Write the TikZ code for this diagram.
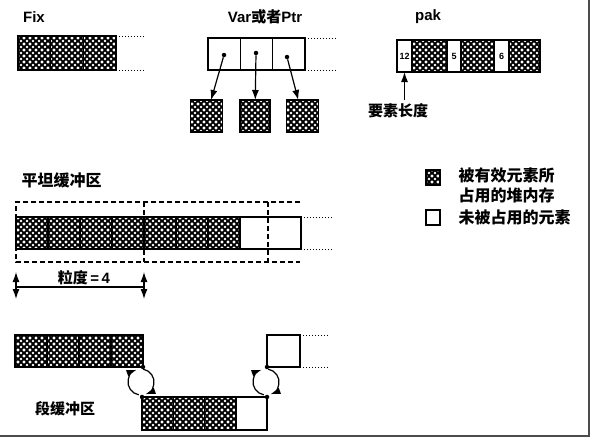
\documentclass[tikz,border=0pt]{standalone}
\usepackage{fontspec}
\setsansfont{Liberation Sans}
\newfontfamily\cjk{Noto Sans CJK SC}
\usetikzlibrary{patterns,arrows.meta}

\pgfdeclarepatternformonly{celldots}{\pgfqpoint{-2pt}{-2pt}}{\pgfqpoint{8pt}{8pt}}{\pgfqpoint{6pt}{6pt}}{%
  \pgfpathcircle{\pgfqpoint{0pt}{0pt}}{1.4pt}
  \pgfpathcircle{\pgfqpoint{6pt}{0pt}}{1.4pt}
  \pgfpathcircle{\pgfqpoint{0pt}{6pt}}{1.4pt}
  \pgfpathcircle{\pgfqpoint{6pt}{6pt}}{1.4pt}
  \pgfpathcircle{\pgfqpoint{3pt}{3pt}}{1.4pt}
  \pgfusepath{fill}}

\tikzstyle{hcell}=[rectangle, draw=black, line width=1.2pt, fill=black, inner sep=0pt, outer sep=0pt, minimum width=32pt, minimum height=32pt, postaction={pattern=celldots, pattern color=white}, postaction={draw=black, line width=1.2pt}]
\tikzstyle{wcell}=[rectangle, draw=black, line width=1.2pt, fill=white, inner sep=0pt, outer sep=0pt, minimum width=32pt, minimum height=32pt]
\tikzstyle{pdot}=[circle, fill=black, inner sep=0pt, minimum size=4.5pt]
\tikzstyle{title}=[font=\fontsize{15}{18}\selectfont\sffamily\bfseries]
\tikzstyle{cjklabel}=[font=\fontsize{15}{18}\selectfont\cjk\bfseries]
\tikzstyle{keytext}=[anchor=west, align=left, font=\fontsize{16}{20}\selectfont\cjk\bfseries]
\tikzstyle{ext}=[dotted, line width=1pt]
\tikzstyle{conn}=[line width=1.2pt]
\tikzstyle{gframe}=[line width=1.2pt, dash pattern=on 5pt off 3pt]

\begin{document}
\begin{tikzpicture}[x=1pt, y=-1pt, >={Latex[length=10pt,width=7pt]}]
    \useasboundingbox (0,0) rectangle (593,440);

    % Fix
    \node[title] (fixlbl) at (34,17) {Fix};
    \node[hcell, minimum width=32.7pt, minimum height=34pt] (fix1) at (34.3,53) {};
    \node[hcell, minimum width=32.7pt, minimum height=34pt] (fix2) at (67,53) {};
    \node[hcell, minimum width=32.7pt, minimum height=34pt] (fix3) at (99.7,53) {};
    \coordinate (fixe1) at (145,36);
    \coordinate (fixe2) at (145,70);
    \draw[ext] (fix3.north east) -- (fixe1);
    \draw[ext] (fix3.south east) -- (fixe2);

    % Var or Ptr
    \node[title] (varlbl) at (265,17) {Var{\cjk 或者}Ptr};
    \node[wcell, minimum width=32.3pt] (var1) at (224.2,54) {};
    \node[wcell, minimum width=32.3pt] (var2) at (256.5,54) {};
    \node[wcell, minimum width=32.3pt] (var3) at (288.8,54) {};
    \coordinate (vare1) at (335,38);
    \coordinate (vare2) at (335,70);
    \draw[ext] (var3.north east) -- (vare1);
    \draw[ext] (var3.south east) -- (vare2);

    \node[pdot] (v1) at (224,55) {};
    \node[pdot] (v2) at (256,53) {};
    \node[pdot] (v3) at (287,57) {};

    \node[hcell] (s1) at (206.5,116) {}
    edge[<-, conn] (v1);
    \node[hcell, minimum width=30pt] (s2) at (255,116) {}
    edge[<-, conn] (v2);
    \node[hcell] (s3) at (302.5,116) {}
    edge[<-, conn] (v3);

    % pak
    \node[title] (paklbl) at (428,17) {pak};
    \node[wcell, minimum width=15pt, font=\fontsize{9}{10}\selectfont\sffamily\bfseries] (p1) at (404.5,56) {12};
    \node[hcell, minimum width=35pt] (p2) at (429.5,56) {};
    \node[wcell, minimum width=14pt, font=\fontsize{9}{10}\selectfont\sffamily\bfseries] (p3) at (454,56) {5};
    \node[hcell, minimum width=33pt] (p4) at (477.5,56) {};
    \node[wcell, minimum width=15pt, font=\fontsize{9}{10}\selectfont\sffamily\bfseries] (p5) at (501.5,56) {6};
    \node[hcell, minimum width=31pt] (p6) at (524.5,56) {};
    \node[cjklabel] (len) at (398,111) {要素长度};
    \draw[->, conn] (len.north -| p1) -- (p1.south);

    % flat buffer
    \node[keytext] (flatlbl) at (18,180) {平坦缓冲区};
    \foreach \i in {1,...,7}
        \node[hcell] (f\i) at (\i*32,233) {};
    \node[wcell, minimum width=61pt] (fw) at (270.5,233) {};
    \coordinate (flate1) at (333,217);
    \coordinate (flate2) at (333,249);
    \draw[ext] (fw.north east) -- (flate1);
    \draw[ext] (fw.south east) -- (flate2);
    \draw[gframe] (300,202) -| (16,262) -- (300,262);
    \draw[gframe] (144,202) -- (144,262);
    \draw[gframe] (268,202) -- (268,262);

    \node[cjklabel] (gran) at (84,278) {粒度\,{\sffamily =\,4}};
    \coordinate (ga1) at (16,272);
    \coordinate (ga2) at (16,299);
    \coordinate (gb1) at (144,272);
    \coordinate (gb2) at (144,299);
    \coordinate (gl1) at (16,287);
    \coordinate (gl2) at (144,287);
    \draw[<->, conn] (ga1) -- (ga2);
    \draw[<->, conn] (gb1) -- (gb2);
    \draw[conn] (gl1) -- (gl2);

    % key
    \node[hcell, minimum width=14pt, minimum height=15pt] (keyh) at (433,177.5) {};
    \node[wcell, minimum width=14pt, minimum height=15pt] (keyw) at (433,217.5) {};
    \node[keytext] (keyhtxt) at (455,185) {被有效元素所\\占用的堆内存};
    \node[keytext] (keywtxt) at (455,217.5) {未被占用的元素};

    % segmented buffer
    \foreach \i in {1,...,4}
        \node[hcell] (sa\i) at (\i*32-1,351) {};
    \node[wcell, minimum width=33pt] (sw) at (283.5,351) {};
    \coordinate (sege1) at (330,335);
    \coordinate (sege2) at (330,367);
    \draw[ext] (sw.north east) -- (sege1);
    \draw[ext] (sw.south east) -- (sege2);

    \node[hcell, minimum width=31.3pt, minimum height=33pt] (sb1) at (157.7,413.5) {};
    \node[hcell, minimum width=31.3pt, minimum height=33pt] (sb2) at (189,413.5) {};
    \node[hcell, minimum width=31.3pt, minimum height=33pt] (sb3) at (220.3,413.5) {};
    \node[wcell, minimum width=31pt, minimum height=33pt] (sb4) at (251.5,413.5) {};

    \node[pdot] (da) at (sa4.south east) {};
    \node[pdot] (db) at (sb1.north west) {};
    \node[pdot] (dc) at (sw.south west) {};
    \node[pdot] (dd) at (sb4.north east) {};

    \coordinate (lp1) at (141,382);
    \coordinate (lp2) at (266,382);
    \draw[->, conn] ([shift={(100:13)}]lp1) arc[start angle=100, end angle=250, radius=13];
    \draw[->, conn] ([shift={(280:13)}]lp1) arc[start angle=280, end angle=430, radius=13];
    \draw[->, conn] ([shift={(100:13)}]lp2) arc[start angle=100, end angle=250, radius=13];
    \draw[->, conn] ([shift={(280:13)}]lp2) arc[start angle=280, end angle=430, radius=13];

    \node[cjklabel] (seglbl) at (65,409) {段缓冲区};

    % frame
    \draw[line width=1.5pt, black!70] (589,0) -- (589,436) -- (0,436);
\end{tikzpicture}
\end{document}
